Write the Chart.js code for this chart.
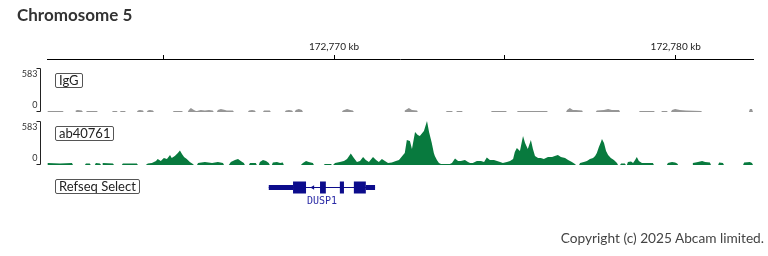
<!DOCTYPE html>
<html>
<head>
<meta charset="utf-8">
<title>Chromosome 5</title>
<script src="https://cdn.jsdelivr.net/npm/chart.js@4/dist/chart.umd.min.js"></script>
<style>
  html, body { margin: 0; padding: 0; background: #fff; }
  #wrap { position: relative; width: 768px; height: 256px; overflow: hidden; font-family: Lato, "Noto Sans", sans-serif; }
  #chart { position: absolute; left: 0; top: 0; }
  .title { position: absolute; left: 17px; top: 5px; font-size: 17px; line-height: 20px; font-weight: bold; color: #333; }
  .track-name { position: absolute; left: 55px; height: 13px; line-height: 13px; padding: 0 3px; border: 1px solid #555; border-radius: 2px; font-size: 13px; color: #222; background: #fff; }
  .gene-name { position: absolute; left: 297px; width: 50px; top: 195px; text-align: center; font: 10px/12px "DejaVu Sans Mono", monospace; color: #2a2aa6; }
  .copyright { position: absolute; right: 4px; top: 230px; font-size: 13.7px; line-height: 16px; color: #444; }
</style>
</head>
<body>
<div id="wrap">
  <canvas id="chart" width="768" height="256"></canvas>
  <div class="title">Chromosome 5</div>
  <div class="track-name" style="top:73px">IgG</div>
  <div class="track-name" style="top:126px">ab40761</div>
  <div class="track-name" style="top:179px">Refseq Select</div>
  <div class="gene-name">DUSP1</div>
  <div class="copyright">Copyright (c) 2025 Abcam limited.</div>
</div>
<script>
// region shown, in kb (positions below are kb past BASE_KB)
const BASE_KB = 172760;
const VIEW_START = 172761.60;
const VIEW_END = 172782.26;
const RULER_TICKS = [172765, 172770, 172775, 172780];
const RULER_LABELS = ['', '172,770 kb', '', '172,780 kb'];
const TRACK_MAX = 583;
const TRACK_TICKS = [0, 583];

// IgG coverage
const IGG_KB = [
  1.60, 1.62, 2.06, 2.09, 2.42, 2.44, 2.50, 2.62, 2.65, 2.74, 2.77, 3.06, 3.09,
  3.50, 3.53, 3.64, 3.67, 3.73, 3.76, 3.88, 3.91, 4.23, 4.26, 4.32, 4.41, 4.43,
  4.52, 4.55, 4.61, 4.70, 4.73, 5.28, 5.31, 5.55, 5.58,
  5.72, 5.75, 5.81, 5.90, 5.96, 5.99, 6.10, 6.22, 6.34, 6.45, 6.48,
  6.57, 6.60, 6.69, 6.81, 6.86, 7.04, 7.07, 7.48, 7.51, 7.60, 7.68, 7.71,
  7.92, 7.95, 8.12, 8.15, 8.56, 8.59, 8.68, 8.77, 8.80, 8.85, 8.88, 8.97, 9.06, 9.09,
  10.23, 10.26, 10.38, 10.47, 10.55, 10.58, 12.05, 12.07, 12.19, 12.28, 12.43, 12.45,
  13.27, 13.30, 13.45, 13.48, 13.57, 13.60, 13.74, 13.77, 14.59, 14.62, 15.03, 15.06,
  15.35, 15.38, 16.23, 16.26, 16.79, 16.82, 16.90, 16.99, 17.08, 17.26, 17.28,
  17.66, 17.69, 17.90, 18.02, 18.13, 18.34, 18.37, 18.92, 18.95, 19.36, 19.39,
  19.57, 19.60, 19.74, 19.77, 19.86, 19.89, 19.98, 20.12, 20.30, 20.74, 20.77,
  22.14, 22.17, 22.23, 22.26
];
const IGG_VAL = [
  0, 13, 13, 0, 0, 20, 27, 20, 0, 0, 13, 13, 0,
  0, 13, 13, 0, 0, 13, 13, 0, 0, 20, 27, 20, 0,
  0, 20, 27, 20, 0, 0, 13, 13, 0,
  0, 27, 53, 27, 13, 13, 27, 20, 27, 20, 0,
  0, 27, 40, 27, 20, 20, 0, 0, 20, 27, 20, 0,
  0, 20, 20, 0, 0, 20, 27, 20, 0, 0, 27, 40, 27, 0,
  0, 20, 40, 27, 20, 0, 0, 20, 53, 27, 20, 0,
  0, 13, 13, 0, 0, 13, 13, 0, 0, 13, 13, 0,
  0, 13, 13, 0, 0, 27, 53, 27, 27, 20, 0,
  0, 20, 27, 40, 27, 27, 0, 0, 13, 13, 0,
  0, 13, 13, 0, 0, 27, 40, 27, 20, 13, 0,
  0, 40, 40, 0
];

// ab40761 coverage
const AB_KB = [
  1.60, 1.62, 1.98, 2.33, 2.36, 2.71, 2.74, 2.85, 2.88, 3.00, 3.03, 3.15, 3.18,
  3.21, 3.23, 3.53, 3.56, 3.79, 3.82, 4.23, 4.26,
  4.49, 4.55, 4.67, 4.79, 4.84, 4.93, 5.02, 5.11, 5.20, 5.25, 5.34, 5.43, 5.49, 5.55, 5.61, 5.69, 5.78, 5.87, 5.90,
  5.99, 6.02, 6.22, 6.43, 6.60, 6.75, 6.78, 6.92, 6.98, 7.10, 7.19, 7.27, 7.36, 7.39,
  7.51, 7.54, 7.71, 7.74, 7.80, 7.83, 7.92, 8.01, 8.09, 8.12, 8.18, 8.21, 8.33, 8.42, 8.50, 8.53,
  9.03, 9.09, 9.18, 9.26, 9.38, 9.41, 9.70, 9.73, 9.91, 9.94,
  9.97, 10.03, 10.17, 10.29, 10.38, 10.49, 10.58, 10.67, 10.76, 10.85, 10.93, 11.02, 11.14, 11.23,
  11.31, 11.40, 11.49, 11.58, 11.69, 11.81, 11.90, 12.02, 12.07, 12.13, 12.22, 12.28, 12.37, 12.45,
  12.51, 12.63, 12.72, 12.78, 12.86, 12.92, 12.95, 13.01, 13.07, 13.13, 13.19, 13.39, 13.45, 13.54,
  13.63, 13.71, 13.83, 13.92, 13.98, 14.06, 14.18, 14.30, 14.39, 14.47, 14.56, 14.68, 14.77, 14.86,
  14.94, 15.06, 15.15, 15.24, 15.29, 15.35, 15.44, 15.53, 15.59, 15.67, 15.76, 15.82, 15.88, 15.97,
  16.05, 16.14, 16.26, 16.38, 16.46, 16.55, 16.64, 16.76, 16.85, 16.96, 17.05, 17.08,
  17.17, 17.20, 17.31, 17.40, 17.49, 17.58, 17.64, 17.69, 17.75, 17.81, 17.84, 17.90, 17.96, 18.02,
  18.10, 18.19, 18.28, 18.31, 18.37, 18.40, 18.51, 18.54,
  18.57, 18.60, 18.69, 18.75, 18.81, 18.86, 18.92, 19.01, 19.19, 19.33, 19.36,
  19.74, 19.77, 19.89, 19.98, 20.04, 20.07, 20.48, 20.50, 20.65, 20.77, 20.86, 21.00, 21.03,
  21.24, 21.27, 21.38, 21.41, 21.97, 22.00, 22.17, 22.23, 22.26
];
const AB_VAL = [
  0, 27, 20, 27, 0, 0, 20, 20, 0, 0, 27, 20, 0,
  0, 27, 20, 0, 0, 20, 20, 0,
  0, 20, 27, 53, 80, 53, 93, 80, 133, 93, 119, 159, 192, 146, 106, 80, 40, 13, 0,
  0, 27, 40, 27, 40, 27, 0, 0, 40, 66, 80, 53, 27, 0,
  0, 27, 27, 0, 0, 40, 66, 53, 27, 0, 0, 33, 40, 27, 33, 0,
  0, 27, 53, 40, 27, 0, 0, 13, 13, 0,
  0, 27, 40, 53, 80, 152, 93, 40, 53, 106, 66, 40, 106, 66,
  40, 80, 53, 27, 33, 53, 66, 133, 159, 331, 318, 212, 437, 398,
  384, 450, 583, 437, 292, 159, 119, 66, 27, 13, 13, 13, 27, 86,
  53, 53, 66, 40, 27, 27, 53, 53, 40, 99, 66, 66, 53, 40,
  27, 40, 53, 80, 172, 225, 186, 384, 292, 212, 331, 212, 119, 93,
  93, 80, 106, 106, 119, 133, 106, 93, 66, 40, 13, 0,
  0, 27, 40, 53, 80, 93, 119, 159, 239, 305, 345, 292, 186, 133,
  93, 66, 27, 0, 0, 20, 20, 0,
  0, 40, 46, 27, 66, 106, 53, 27, 27, 27, 0,
  0, 27, 40, 33, 20, 0, 0, 27, 40, 53, 40, 33, 0,
  0, 33, 27, 0, 0, 33, 40, 27, 0
];

// DUSP1 gene model (kb past BASE_KB)
const GENE_SPAN = [8.09, 11.20];
const GENE_UTR = [[8.09, 8.80], [10.93, 11.20]];
const GENE_CDS = [[8.80, 9.18], [9.59, 9.76], [10.17, 10.29], [10.58, 10.93]];
const GENE_STRAND_MARK = [9.38];

const IGG_COLOR = 'rgb(150,150,150)';
const AB_COLOR = 'rgb(8,122,62)';
const GENE_COLOR = 'rgb(12,12,140)';

function toPoints(kbs, vals) {
    return kbs.map((k, i) => ({ x: BASE_KB + k, y: vals[i] }));
}

function segPoints(segs) {
    const pts = [];
    segs.forEach(([a, b]) => {
        pts.push({ x: BASE_KB + a, y: 0.5 }, { x: BASE_KB + b, y: 0.5 }, { x: BASE_KB + b, y: null });
    });
    return pts;
}

function signalSet(label, axis, data, color) {
    return {
        label, yAxisID: axis, data,
        fill: 'origin', backgroundColor: color,
        borderColor: 'transparent', borderWidth: 0,
        pointRadius: 0, tension: 0
    };
}

function geneSet(label, data, width) {
    return {
        label, yAxisID: 'yGene', data,
        borderColor: GENE_COLOR, backgroundColor: GENE_COLOR,
        borderWidth: width, borderCapStyle: 'butt',
        pointRadius: 0, fill: false, spanGaps: false, tension: 0
    };
}

function stackAxis(weightPx, order, extra) {
    return Object.assign({
        axis: 'y', type: 'linear', position: 'left', display: false,
        stack: 'tracks', stackWeight: weightPx, weight: order
    }, extra || {});
}

// bracket + 0/583 labels left of each signal track
const trackFrames = {
    id: 'trackFrames',
    afterDraw(chart) {
        const ctx = chart.ctx;
        const x0 = chart.chartArea.left - 6.5;
        ctx.save();
        ctx.strokeStyle = '#222';
        ctx.lineWidth = 1;
        ctx.fillStyle = '#333';
        ctx.font = '9px Lato, "Noto Sans", sans-serif';
        ctx.textAlign = 'right';
        ctx.textBaseline = 'middle';
        ['yIgG', 'yAb'].forEach(id => {
            const s = chart.scales[id];
            const top = Math.round(s.getPixelForValue(TRACK_TICKS[1])) + 0.5;
            const bottom = Math.round(s.getPixelForValue(TRACK_TICKS[0])) - 0.5;
            ctx.beginPath();
            ctx.moveTo(x0 - 4, top);
            ctx.lineTo(x0, top);
            ctx.lineTo(x0, bottom);
            ctx.lineTo(x0 - 4, bottom);
            ctx.stroke();
            ctx.fillText(String(TRACK_TICKS[1]), x0 - 3, top + 6);
            ctx.fillText(String(TRACK_TICKS[0]), x0 - 3, bottom - 6);
        });
        ctx.restore();
    }
};

new Chart(document.getElementById('chart').getContext('2d'), {
    type: 'line',
    data: {
        datasets: [
            signalSet('IgG', 'yIgG', toPoints(IGG_KB, IGG_VAL), IGG_COLOR),
            signalSet('ab40761', 'yAb', toPoints(AB_KB, AB_VAL), AB_COLOR),
            geneSet('intron', segPoints([GENE_SPAN]), 1),
            geneSet('utr', segPoints(GENE_UTR), 5),
            geneSet('cds', segPoints(GENE_CDS), 12),
            {
                label: 'strand', yAxisID: 'yGene',
                data: GENE_STRAND_MARK.map(k => ({ x: BASE_KB + k, y: 0.5 })),
                showLine: false, pointStyle: 'triangle', pointRadius: 2.5, rotation: -90,
                pointBackgroundColor: GENE_COLOR, pointBorderColor: GENE_COLOR, pointBorderWidth: 0
            }
        ]
    },
    options: {
        responsive: false,
        animation: false,
        events: [],
        layout: { padding: { left: 47, right: 15, top: 39, bottom: 61 } },
        plugins: { legend: { display: false }, tooltip: { enabled: false }, title: { display: false } },
        scales: {
            x: {
                type: 'linear', position: 'top',
                min: VIEW_START, max: VIEW_END,
                afterBuildTicks: s => { s.ticks = RULER_TICKS.map(v => ({ value: v })); },
                afterFit: s => { s.height = 20; },
                grid: { drawOnChartArea: false, tickLength: 4, color: '#000' },
                border: { color: '#000', width: 1 },
                ticks: {
                    autoSkip: false, maxRotation: 0, padding: 2,
                    callback: (v, i) => RULER_LABELS[i],
                    color: '#222',
                    font: { family: 'Lato, "Noto Sans", sans-serif', size: 10 }
                }
            },
            sp1: stackAxis(9, 6),
            yIgG: stackAxis(44, 5, { min: 0, max: TRACK_MAX }),
            sp2: stackAxis(9, 4),
            yAb: stackAxis(44, 3, { min: 0, max: TRACK_MAX }),
            sp3: stackAxis(15, 2),
            yGene: stackAxis(15, 1, { min: 0, max: 1 })
        }
    },
    plugins: [trackFrames]
});
</script>
</body>
</html>
